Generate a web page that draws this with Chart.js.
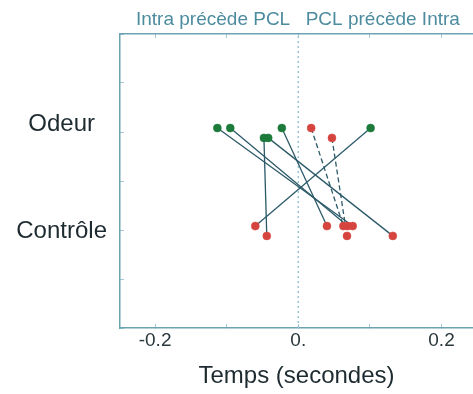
<!DOCTYPE html>
<html>
<head>
<meta charset="utf-8">
<script src="https://cdn.jsdelivr.net/npm/chart.js@4.4.0/dist/chart.umd.min.js"></script>
<style>
  body { margin: 0; background: #fff; overflow: hidden; }
</style>
</head>
<body>
<canvas id="chart" width="473" height="394"></canvas>
<script>
// each pair joins one cell in the Odeur row to one in the Contrôle row
const odeurX    = [-0.113, -0.095, -0.048, -0.042, -0.023, 0.101, 0.018, 0.047];
const odeurY    = [1.04, 1.04, 0.94, 0.94, 1.04, 1.04, 1.04, 0.94];
const controleX = [0.076, 0.069, -0.044, 0.132, 0.040, -0.060, 0.063, 0.068];
const controleY = [0.04, 0.04, -0.06, -0.06, 0.04, 0.04, 0.04, -0.06];
const odeurColor = ['g', 'g', 'g', 'g', 'g', 'g', 'r', 'r'];
const dashedPair = [false, false, false, false, false, false, true, true];

const rowLabels = ['Odeur', 'Contrôle'];
const rowLabelValues = [1.08, -0.01];
const topLabels = ['Intra précède PCL', 'PCL précède Intra'];
const topLabelValues = [-0.119, 0.118];
const xTickValues = [-0.2, 0, 0.2];
const xTickLabels = ['-0.2', '0.', '0.2'];

const X_MIN = -0.249, X_MAX = 0.244;
const Y_MIN = -1, Y_MAX = 2;

const GREEN = '#1c7a3b';
const RED = '#d6443f';
const LINE = '#2c5a69';
const AXIS = '#6ba3b3';
const TICK = '#a4c8d4';
const HEAD = '#4d8c9f';
const TEXT = '#1d2b30';
const FONT = '"Liberation Sans", Arial, sans-serif';

Chart.defaults.font.family = FONT;

// no extra margins for edge labels, keep the frame where it is
function noPad(s) {
  s.paddingLeft = 0;
  s.paddingRight = 0;
  s.paddingTop = 0;
  s.paddingBottom = 0;
}

let datasets = [];

odeurX.forEach((x0, i) => {
  datasets.push({
    type: 'line',
    data: [{ x: x0, y: odeurY[i] }, { x: controleX[i], y: controleY[i] }],
    borderColor: LINE,
    borderWidth: 1.3,
    borderDash: dashedPair[i] ? [5, 3] : [],
    pointRadius: 0,
    xAxisID: 'x',
    yAxisID: 'y',
    order: 2
  });
});

// dotted zero line
datasets.push({
  type: 'line',
  data: [{ x: 0, y: Y_MIN }, { x: 0, y: Y_MAX }],
  borderColor: '#9cc3d2',
  borderWidth: 1.5,
  borderDash: [2, 3],
  pointRadius: 0,
  xAxisID: 'x',
  yAxisID: 'y',
  order: 3
});

let pts = [];
let cols = [];
odeurX.forEach((x0, i) => {
  pts.push({ x: x0, y: odeurY[i] });
  cols.push(odeurColor[i] == 'g' ? GREEN : RED);
  pts.push({ x: controleX[i], y: controleY[i] });
  cols.push(RED);
});

datasets.push({
  type: 'scatter',
  data: pts,
  pointRadius: 4,
  pointBackgroundColor: cols,
  pointBorderColor: cols,
  pointBorderWidth: 0.5,
  xAxisID: 'x',
  yAxisID: 'y',
  order: 0
});

new Chart(document.getElementById('chart'), {
  type: 'scatter',
  data: { datasets: datasets },
  options: {
    responsive: false,
    animation: false,
    layout: { padding: 0, autoPadding: false },
    plugins: { legend: { display: false }, tooltip: { enabled: false } },
    scales: {
      x: {
        type: 'linear', position: 'bottom', min: X_MIN, max: X_MAX,
        ticks: {
          stepSize: 0.1, includeBounds: false, padding: 5, maxRotation: 0, autoSkip: false,
          color: '#2a373c', font: { size: 19 },
          callback: v => {
            const k = xTickValues.findIndex(t => Math.abs(t - v) < 1e-6);
            return k < 0 ? '' : xTickLabels[k];
          }
        },
        grid: { drawOnChartArea: false, tickLength: -4, color: TICK },
        border: { color: AXIS, width: 1.5 },
        title: {
          display: true, text: 'Temps (secondes)', color: TEXT,
          font: { size: 24 }, padding: { top: 0, bottom: 3 }
        },
        afterFit: s => { s.height = 66; noPad(s); }
      },
      xMarks: {
        type: 'linear', position: 'top', min: X_MIN, max: X_MAX,
        ticks: { stepSize: 0.1, includeBounds: false, display: false },
        grid: { drawOnChartArea: false, tickLength: -4, color: TICK },
        border: { color: AXIS, width: 1.5 },
        afterFit: s => { s.height = 1; noPad(s); }
      },
      xHead: {
        type: 'linear', position: 'top', min: X_MIN, max: X_MAX,
        afterBuildTicks: s => { s.ticks = topLabelValues.map(v => ({ value: v })); },
        ticks: {
          autoSkip: false, maxRotation: 0, padding: -6,
          color: HEAD, font: { size: 19 },
          callback: (v, i) => topLabels[i]
        },
        grid: { display: false },
        border: { display: false },
        afterFit: s => { s.height = 33; noPad(s); }
      },
      y: {
        type: 'linear', position: 'left', min: Y_MIN, max: Y_MAX,
        ticks: { stepSize: 0.5, display: false },
        grid: { drawOnChartArea: false, tickLength: -4, color: TICK },
        border: { color: AXIS, width: 1.5 },
        afterFit: s => { s.width = 1; noPad(s); }
      },
      yLabels: {
        type: 'linear', position: 'left', min: Y_MIN, max: Y_MAX,
        afterBuildTicks: s => { s.ticks = rowLabelValues.map(v => ({ value: v })); },
        ticks: {
          autoSkip: false, crossAlign: 'center', padding: 4,
          color: TEXT, font: { size: 24 },
          callback: (v, i) => rowLabels[i]
        },
        grid: { display: false },
        border: { display: false },
        afterFit: s => { s.width = 119; noPad(s); }
      }
    }
  }
});
</script>
</body>
</html>
